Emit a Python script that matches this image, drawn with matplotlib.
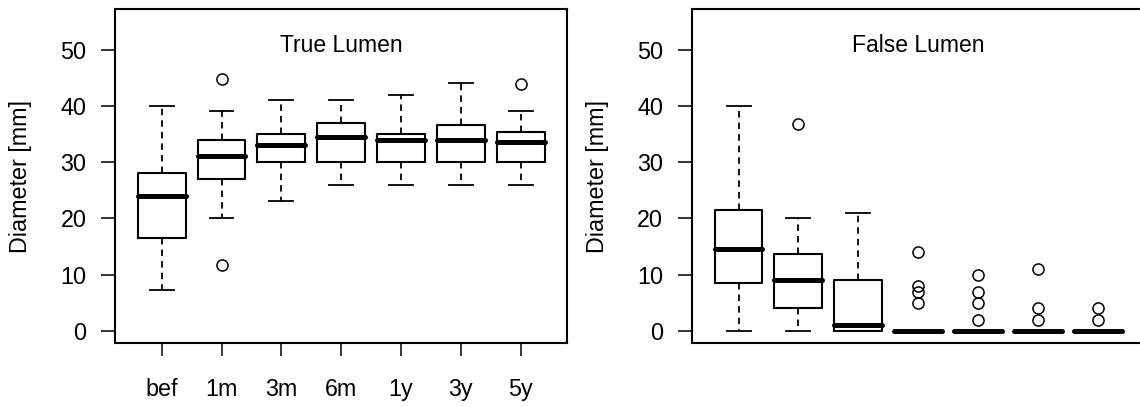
import matplotlib
matplotlib.use('Agg')
import matplotlib.pyplot as plt

plt.rcParams['font.family'] = ['Liberation Sans', 'DejaVu Sans']

labels = ['bef', '1m', '3m', '6m', '1y', '3y', '5y']

# True lumen box stats
tl_whislo = [7.2, 20, 23.1, 26, 26, 26, 26]
tl_q1 = [16.5, 27, 30, 30, 30, 30, 30]
tl_med = [24, 31.1, 33, 34.5, 34, 34, 33.5]
tl_q3 = [28, 34, 35, 37, 35, 36.5, 35.4]
tl_whishi = [40, 39, 41, 41, 42, 44, 39]
tl_fliers = [[], [44.8, 11.8], [], [], [], [], [43.8]]

# False lumen box stats
fl_whislo = [0, 0, 0, 0, 0, 0, 0]
fl_q1 = [8.5, 4, 0, 0, 0, 0, 0]
fl_med = [14.6, 9, 1.1, 0, 0, 0, 0]
fl_q3 = [21.5, 13.6, 9, 0, 0, 0, 0]
fl_whishi = [40, 20, 21, 0, 0, 0, 0]
fl_fliers = [[], [36.8], [], [14, 8, 7, 5], [10, 7, 5, 2], [11, 4, 2], [4, 2]]


def make_stats(whislo, q1, med, q3, whishi, fliers):
    stats = []
    for i in range(len(med)):
        stats.append(dict(whislo=whislo[i], q1=q1[i], med=med[i], q3=q3[i],
                          whishi=whishi[i], fliers=fliers[i]))
    return stats


def draw_panel(ax, stats, title):
    ax.bxp(stats, positions=range(1, 8), widths=0.8, showfliers=True,
           boxprops=dict(color='black', linewidth=1.5),
           whiskerprops=dict(color='black', linewidth=1.3, linestyle=(0, (3.6, 2.8))),
           capprops=dict(color='black', linewidth=1.3),
           medianprops=dict(color='black', linewidth=3.6, solid_capstyle='round'),
           flierprops=dict(marker='o', markerfacecolor='none', markeredgecolor='black',
                           markersize=8, markeredgewidth=1.1, linestyle='none'))
    ax.set_xlim(0.22, 7.78)
    ax.set_ylim(-2.2, 57.2)
    ax.set_yticks([0, 10, 20, 30, 40, 50])
    for s in ax.spines.values():
        s.set_linewidth(1.5)
    ax.tick_params(axis='y', direction='out', length=10, width=1.1, pad=10.5, labelsize=16.8)
    ax.set_ylabel('Diameter [mm]', fontsize=16.8)
    ax.yaxis.set_label_coords(-0.183, 0.5)
    ax.text(0.5, 0.892, title, transform=ax.transAxes, ha='center', va='center', fontsize=16.5)


fig = plt.figure(figsize=(11.4, 4.07), dpi=100)
ax1 = fig.add_axes([0.1009, 0.1565, 0.3968, 0.8214])
ax2 = fig.add_axes([0.6068, 0.1565, 0.3976, 0.8214])

draw_panel(ax1, make_stats(tl_whislo, tl_q1, tl_med, tl_q3, tl_whishi, tl_fliers), 'True Lumen')
ax1.set_xticks(range(1, 8))
ax1.set_xticklabels(labels)
ax1.tick_params(axis='x', direction='out', length=9.5, width=1.1, pad=15.5, labelsize=16.8)

draw_panel(ax2, make_stats(fl_whislo, fl_q1, fl_med, fl_q3, fl_whishi, fl_fliers), 'False Lumen')
ax2.set_xticks([])

fig.savefig('out.png', dpi=100)
